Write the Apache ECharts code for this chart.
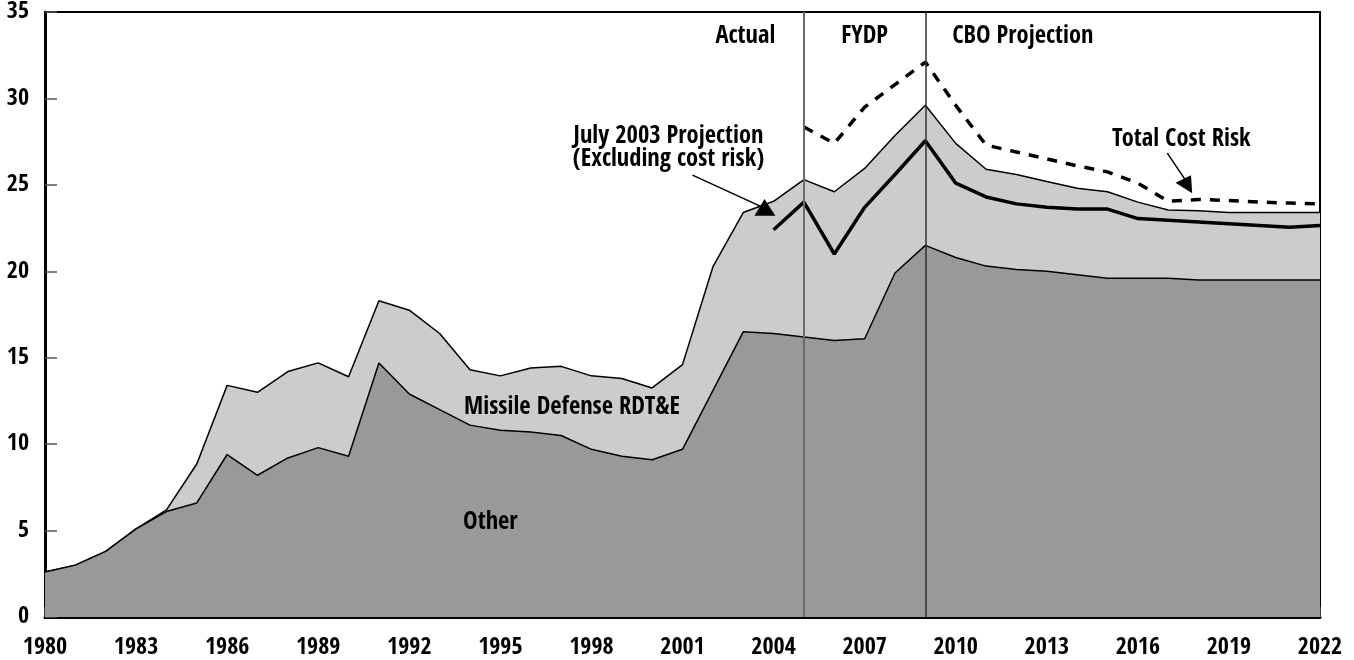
<!DOCTYPE html>
<html><head><meta charset="utf-8">
<script src="https://cdn.jsdelivr.net/npm/echarts@6/dist/echarts.min.js"></script>
<style>html,body{margin:0;padding:0;background:#fff}#c{width:1354px;height:660px}</style>
</head><body><div id="c"></div>
<script>
const years = [1980,1981,1982,1983,1984,1985,1986,1987,1988,1989,1990,1991,1992,1993,1994,1995,1996,1997,1998,1999,2000,2001,2002,2003,2004,2005,2006,2007,2008,2009,2010,2011,2012,2013,2014,2015,2016,2017,2018,2019,2020,2021,2022];
const otherValues = [2.6,3.0,3.8,5.1,6.1,6.6,9.4,8.2,9.2,9.8,9.3,14.7,12.9,12.0,11.1,10.8,10.7,10.5,9.7,9.3,9.1,9.7,13.1,16.5,16.4,16.2,16.0,16.1,19.9,21.5,20.8,20.3,20.1,20.0,19.8,19.6,19.6,19.6,19.5,19.5,19.5,19.5,19.5];
const totalValues = [2.6,3.0,3.8,5.1,6.2,8.85,13.4,13.0,14.2,14.7,13.9,18.3,17.75,16.4,14.3,13.95,14.4,14.5,13.95,13.8,13.25,14.6,20.25,23.4,24.05,25.3,24.6,25.95,27.85,29.6,27.4,25.9,25.6,25.2,24.8,24.6,24.0,23.55,23.5,23.4,23.4,23.4,23.4];
const july2003Projection = [null,null,null,null,null,null,null,null,null,null,null,null,null,null,null,null,null,null,null,null,null,null,null,null,22.4,24.0,21.0,23.7,25.6,27.55,25.1,24.3,23.9,23.7,23.6,23.6,23.05,22.95,22.85,22.75,22.65,22.55,22.65];
const totalCostRisk = [null,null,null,null,null,null,null,null,null,null,null,null,null,null,null,null,null,null,null,null,null,null,null,null,null,28.35,27.4,29.5,30.8,32.1,29.6,27.3,26.9,26.5,26.1,25.75,25.1,24.05,24.15,24.1,24.0,23.95,23.9];
const periodBoundaries = [2005, 2009];

function hasFont(f){
  const c = document.createElement('canvas').getContext('2d');
  const s = '1980 Missile Defense RDT&E';
  c.font = 'bold 40px monospace'; const a = c.measureText(s).width;
  c.font = "bold 40px '" + f + "', monospace"; const b = c.measureText(s).width;
  return Math.abs(a - b) > 0.5;
}
const candidates = ['Liberation Sans Narrow','Noto Sans Condensed','Open Sans Condensed','Roboto Condensed','DejaVu Sans Condensed'];
const picked = candidates.find(hasFont) || 'DejaVu Sans Condensed';
const narrow = picked !== 'DejaVu Sans Condensed';
const FONT = "'" + picked + "','DejaVu Sans Condensed',sans-serif";
const TICK_SIZE = narrow ? 24 : 21;
const NOTE_SIZE = narrow ? 24.5 : 21;

function pairs(arr){ return years.map((y,i)=>[y, arr[i]]); }
const labelStyle = {color:'#000', fontFamily:FONT, fontWeight:'bold', fontSize:TICK_SIZE};

const chart = echarts.init(document.getElementById('c'), null, {renderer:'canvas'});
chart.setOption({
  animation:false,
  grid:{left:45,right:34,top:12,bottom:43,show:true,borderColor:'#000',borderWidth:2},
  xAxis:{type:'value',min:1980,max:2022,interval:3,
    axisLine:{show:true,onZero:false,lineStyle:{color:'#000',width:3}},
    axisTick:{show:true,inside:true,length:10,lineStyle:{color:'#555',width:1.5}},
    splitLine:{show:false},
    axisLabel:Object.assign({margin:19,formatter:v=>String(v)},labelStyle)},
  yAxis:{type:'value',min:0,max:35,interval:5,
    axisLine:{show:true,lineStyle:{color:'#000',width:3}},
    axisTick:{show:true,inside:true,length:12,lineStyle:{color:'#555',width:1.5}},
    splitLine:{show:false},
    axisLabel:Object.assign({margin:16},labelStyle)},
  series:[
    {type:'line',data:pairs(totalValues),symbol:'none',lineStyle:{color:'#000',width:1.5},areaStyle:{color:'#cccccc',opacity:1},z:1},
    {type:'line',data:pairs(otherValues),symbol:'none',lineStyle:{color:'#000',width:1.5},areaStyle:{color:'#999999',opacity:1},z:2,
      markLine:{silent:true,symbol:'none',label:{show:false},
        data:[
          {xAxis:periodBoundaries[0],lineStyle:{color:'#6a6a6a',width:2,type:'solid'}},
          {xAxis:periodBoundaries[1],lineStyle:{color:'#333',width:1.5,type:'solid'}}
        ]}},
    {type:'line',data:pairs(july2003Projection),symbol:'none',lineStyle:{color:'#000',width:3.5},z:4},
    {type:'line',data:pairs(totalCostRisk),symbol:'none',lineStyle:{color:'#000',width:3.5,type:[10,9]},z:4}
  ]
});

const px = (x,y)=>chart.convertToPixel({gridIndex:0},[x,y]);
function txt(t, x, y){
  const p = px(x,y);
  return {type:'text',x:p[0],y:p[1],z:10,style:{text:t,font:'bold '+NOTE_SIZE+'px '+FONT,fill:'#000',textAlign:'center',textVerticalAlign:'middle',align:'center',verticalAlign:'middle'}};
}
function seg(a,b){
  const p=px(a[0],a[1]), q=px(b[0],b[1]);
  return {type:'line',z:10,shape:{x1:p[0],y1:p[1],x2:q[0],y2:q[1]},style:{stroke:'#000',lineWidth:1.5}};
}
function tri(pts){
  return {type:'polygon',z:10,shape:{points:pts.map(d=>px(d[0],d[1]))},style:{fill:'#000'}};
}
chart.setOption({graphic:[
  txt('Actual',2003.07,33.6),
  txt('FYDP',2007.0,33.6),
  txt('CBO Projection',2012.21,33.6),
  txt('July 2003 Projection',2000.54,27.8),
  txt('(Excluding cost risk)',2000.54,26.45),
  txt('Total Cost Risk',2017.43,27.6),
  txt('Missile Defense RDT&E',1997.36,12.1),
  txt('Other',1994.67,5.45),
  seg([2001.33,25.56],[2003.63,23.71]),
  tri([[2003.37,23.22],[2004.06,23.22],[2003.7,24.18]]),
  seg([2016.97,26.84],[2017.57,25.27]),
  tri([[2017.24,25.12],[2017.75,25.56],[2017.79,24.51]])
]});
</script></body></html>
